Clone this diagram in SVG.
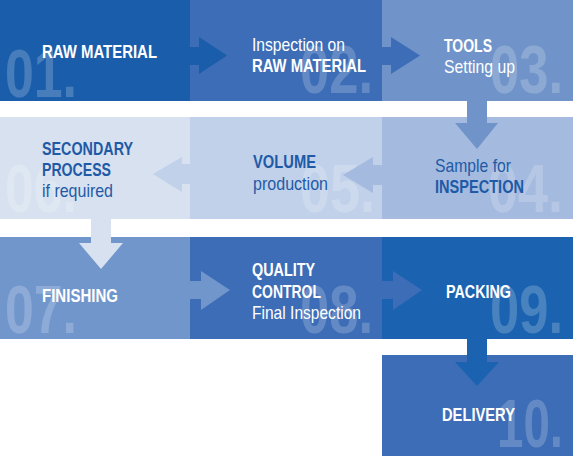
<svg xmlns="http://www.w3.org/2000/svg" width="573" height="456" viewBox="0 0 573 456">
<style>
.num{font-family:"Liberation Sans",Arial,sans-serif;font-weight:bold;font-size:69px;fill:#ffffff;fill-opacity:0.2}
.lb{font-family:"Liberation Sans",Arial,sans-serif;font-size:18.5px}
.b{font-weight:bold}
.w{fill:#ffffff}
.d{fill:#1f5aa6}
</style>
<rect width="573" height="456" fill="#ffffff"/>
<g id="n1">
<rect x="0" y="0" width="190" height="101" fill="#1a5daa"/>
<text class="num" x="5" y="97" textLength="72" lengthAdjust="spacingAndGlyphs">01.</text>
<text class="lb b w" x="42" y="58" textLength="115" lengthAdjust="spacingAndGlyphs">RAW MATERIAL</text>
</g>
<g id="n2">
<rect x="190" y="0" width="192" height="101" fill="#3c6db6"/>
<text class="num" x="373" y="93" text-anchor="end" textLength="73" lengthAdjust="spacingAndGlyphs">02.</text>
<text class="lb w" x="252" y="51" textLength="93" lengthAdjust="spacingAndGlyphs">Inspection on</text>
<text class="lb b w" x="252" y="72" textLength="114" lengthAdjust="spacingAndGlyphs">RAW MATERIAL</text>
</g>
<g id="n3">
<rect x="382" y="0" width="191" height="101" fill="#7094ca"/>
<text class="num" x="563" y="93" text-anchor="end" textLength="73" lengthAdjust="spacingAndGlyphs">03.</text>
<text class="lb b w" x="444" y="52" textLength="48" lengthAdjust="spacingAndGlyphs">TOOLS</text>
<text class="lb w" x="444" y="73" textLength="71" lengthAdjust="spacingAndGlyphs">Setting up</text>
</g>
<g id="n4">
<rect x="382" y="117" width="191" height="102" fill="#a4badf"/>
<text class="num" x="563" y="212" text-anchor="end" textLength="75" lengthAdjust="spacingAndGlyphs">04.</text>
<text class="lb d" x="435" y="172" textLength="76" lengthAdjust="spacingAndGlyphs">Sample for</text>
<text class="lb b d" x="435" y="193" textLength="89" lengthAdjust="spacingAndGlyphs">INSPECTION</text>
</g>
<g id="n5">
<rect x="190" y="117" width="192" height="102" fill="#c1d1ea"/>
<text class="num" x="375" y="212" text-anchor="end" textLength="75" lengthAdjust="spacingAndGlyphs">05.</text>
<text class="lb b d" x="253" y="168" textLength="63" lengthAdjust="spacingAndGlyphs">VOLUME</text>
<text class="lb d" x="253" y="190" textLength="75" lengthAdjust="spacingAndGlyphs">production</text>
</g>
<g id="n6">
<rect x="0" y="117" width="190" height="102" fill="#d7e1ef"/>
<text class="num" x="5" y="212" textLength="72" lengthAdjust="spacingAndGlyphs">06.</text>
<text class="lb b d" x="42" y="155" textLength="91" lengthAdjust="spacingAndGlyphs">SECONDARY</text>
<text class="lb b d" x="42" y="176" textLength="69" lengthAdjust="spacingAndGlyphs">PROCESS</text>
<text class="lb d" x="42" y="197" textLength="71" lengthAdjust="spacingAndGlyphs">if required</text>
</g>
<g id="n7">
<rect x="0" y="237" width="190" height="102" fill="#7196cc"/>
<text class="num" x="5" y="333" textLength="72" lengthAdjust="spacingAndGlyphs">07.</text>
<text class="lb b w" x="42" y="302" textLength="76" lengthAdjust="spacingAndGlyphs">FINISHING</text>
</g>
<g id="n8">
<rect x="190" y="237" width="192" height="102" fill="#3c6db6"/>
<text class="num" x="373" y="333" text-anchor="end" textLength="73" lengthAdjust="spacingAndGlyphs">08.</text>
<text class="lb b w" x="252" y="276" textLength="63" lengthAdjust="spacingAndGlyphs">QUALITY</text>
<text class="lb b w" x="252" y="297.5" textLength="69" lengthAdjust="spacingAndGlyphs">CONTROL</text>
<text class="lb w" x="252" y="319" textLength="109" lengthAdjust="spacingAndGlyphs">Final Inspection</text>
</g>
<g id="n9">
<rect x="382" y="237" width="191" height="102" fill="#1b63b0"/>
<text class="num" x="563" y="333" text-anchor="end" textLength="73" lengthAdjust="spacingAndGlyphs">09.</text>
<text class="lb b w" x="446" y="298" textLength="65" lengthAdjust="spacingAndGlyphs">PACKING</text>
</g>
<g id="n10">
<rect x="382" y="355" width="191" height="101" fill="#3c6db6"/>
<text class="num" x="563" y="447" text-anchor="end" textLength="66" lengthAdjust="spacingAndGlyphs">10.</text>
<text class="lb b w" x="442" y="421" textLength="73" lengthAdjust="spacingAndGlyphs">DELIVERY</text>
</g>
<g id="connectors">
<polygon fill="#1a5daa" points="189,47 199,47 199,37 227,55.5 199,74 199,65 189,65"/>
<polygon fill="#3c6db6" points="381,47 391,47 391,37 420,55.5 391,74 391,65 381,65"/>
<polygon fill="#7094ca" points="467,100 487,100 487,123 498,123 477,149 455,123 467,123"/>
<polygon fill="#a4badf" points="383,165 373,165 373,157 343,175 373,193 373,185 383,185"/>
<polygon fill="#c1d1ea" points="191,164 182,164 182,157 153,174 182,192 182,184 191,184"/>
<polygon fill="#d7e1ef" points="91,218 111,218 111,243 123,243 101,269 79,243 91,243"/>
<polygon fill="#7196cc" points="189,281 201,281 201,271 230,290 201,310 201,299 189,299"/>
<polygon fill="#3c6db6" points="381,281 393,281 393,271 422,290 393,310 393,299 381,299"/>
<polygon fill="#1b63b0" points="467,338 487,338 487,362 499,362 477,386 455,362 467,362"/>
</g>
</svg>
